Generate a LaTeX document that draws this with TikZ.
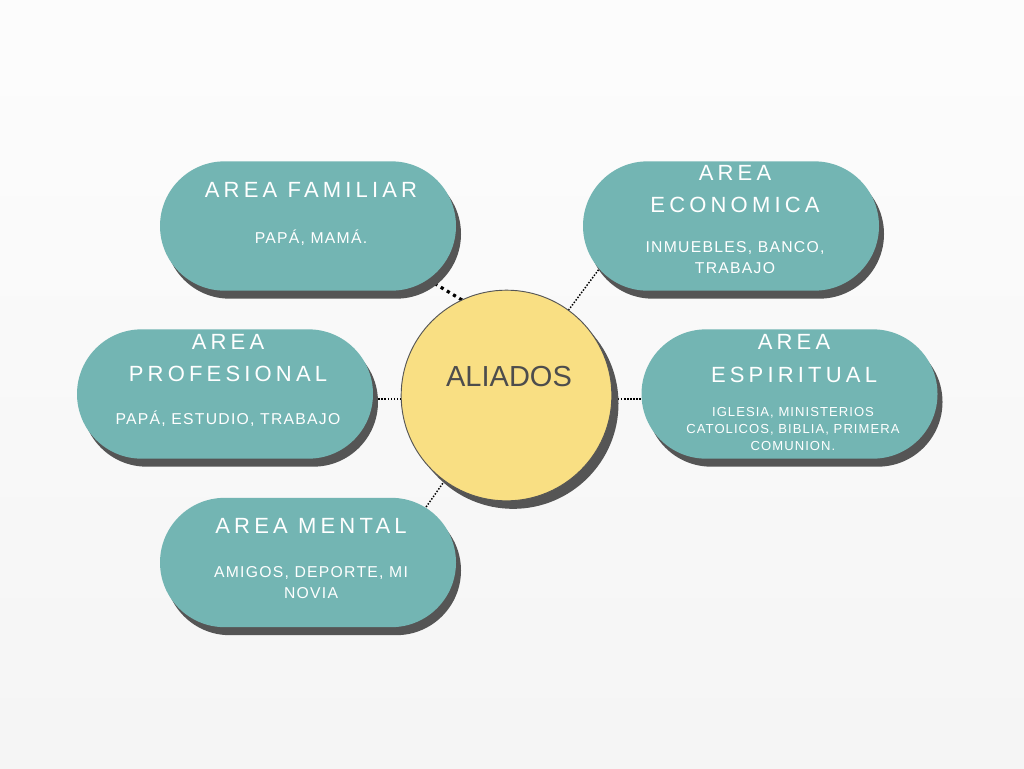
\documentclass[tikz,border=0pt]{standalone}
\usepackage{fontspec}
\usetikzlibrary{shapes.misc,shadows,calc}
\newfontfamily\ttlfont[LetterSpace=19]{Liberation Sans}
\newfontfamily\subfont[LetterSpace=8]{Liberation Sans}
\newfontfamily\alifont{Liberation Sans}
\definecolor{tealbox}{HTML}{73B5B3}
\definecolor{shadowc}{HTML}{555555}
\definecolor{sunny}{HTML}{F9DF83}
\definecolor{alitext}{HTML}{4D4D4D}
\pgfdeclarelayer{background}
\pgfsetlayers{background,main}
\tikzset{
  pill/.style={rounded rectangle, minimum width=222pt, minimum height=97pt, inner sep=0pt, outer sep=0pt,
    fill=tealbox, draw=none, general shadow={fill=shadowc, shadow xshift=3.75pt, shadow yshift=-6pt}},
  hub/.style={circle, minimum size=158pt, inner sep=0pt, outer sep=0pt, fill=sunny, draw=shadowc, line width=0.7pt,
    general shadow={fill=shadowc, shadow xshift=5pt, shadow yshift=-6pt}},
  ttl/.style={text=white, align=center, inner sep=0pt, font=\ttlfont\fontsize{16.5}{24.5}\selectfont},
  subtxt/.style={text=white, align=center, inner sep=0pt, font=\subfont\fontsize{11.8}{15.75}\selectfont},
  subsm/.style={text=white, align=center, inner sep=0pt, font=\subfont\fontsize{9.8}{12.75}\selectfont},
  alitxt/.style={text=alitext, inner sep=0pt, font=\alifont\fontsize{21.75}{26}\selectfont},
  thindot/.style={black, line width=1.1pt, dash pattern=on 1.1pt off 1.2pt},
  thickdot/.style={black, line width=2.4pt, dash pattern=on 2.4pt off 3pt}
}
\begin{document}
\begin{tikzpicture}[x=0.75pt,y=-0.75pt]
\begin{pgfonlayer}{background}
\shade[top color=white!99!black, bottom color=white!96!black] (0,0) rectangle (1024,768);
\end{pgfonlayer}
\useasboundingbox (0,0) rectangle (1024,768);
% boxes
\node[pill] (fam) at (308,226) {};
\node[pill] (eco) at (731,226) {};
\node[pill] (prof) at (225,394) {};
\node[pill] (esp) at (789.5,394) {};
\node[pill] (men) at (308,562.5) {};
\node[hub] (circ) at (506.5,395.5) {};
% texts
\node[ttl] (famt) at (311,190) {AREA FAMILIAR};
\node[subtxt] (fams) at (311,238) {PAPÁ, MAMÁ.};
\node[ttl] (ecot) at (735,189) {AREA\\ECONOMICA};
\node[subtxt] (ecos) at (735,257.5) {INMUEBLES, BANCO,\\TRABAJO};
\node[ttl] (espt) at (794,358.5) {AREA\\ESPIRITUAL};
\node[subsm] (esps) at (793,429) {IGLESIA, MINISTERIOS\\CATOLICOS, BIBLIA, PRIMERA\\COMUNION.};
\node[ttl] (proft) at (228,358) {AREA\\PROFESIONAL};
\node[subtxt] (profs) at (228,419) {PAPÁ, ESTUDIO, TRABAJO};
\node[ttl] (ment) at (311,526) {AREA MENTAL};
\node[subtxt] (mens) at (311,582.5) {AMIGOS, DEPORTE, MI\\NOVIA};
\node[alitxt] (alit) at (509,377) {ALIADOS};
% connectors
\begin{pgfonlayer}{background}
\draw[thickdot] (circ.115) -- (fam.-24);
\draw[thindot] (circ.54) -- (eco.198);
\draw[thindot] (circ.234) -- (men.25);
\draw[thindot] (circ.182) -- (circ.182 -| prof.east);
\draw[thindot] (circ.-2) -- (circ.-2 -| esp.west);
\end{pgfonlayer}
\end{tikzpicture}
\end{document}
